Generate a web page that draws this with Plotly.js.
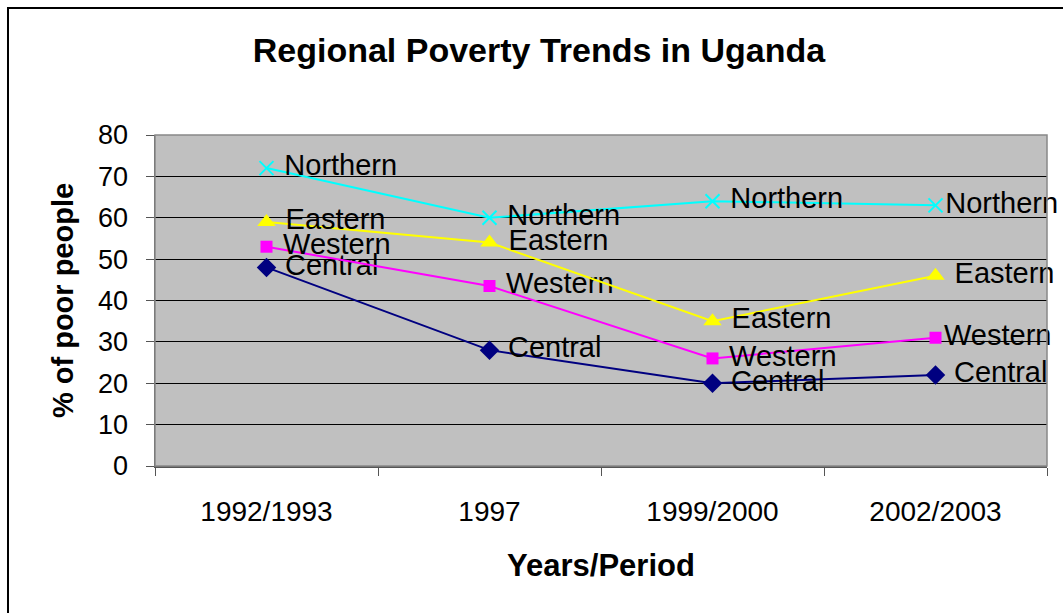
<!DOCTYPE html>
<html>
<head>
<meta charset="utf-8">
<script src="https://cdn.plot.ly/plotly-3.0.1.min.js"></script>
<style>
html,body{margin:0;padding:0;background:#fff;}
#chart{width:1063px;height:613px;}
</style>
</head>
<body>
<div id="chart"></div>
<script>
const periods = ["1992/1993", "1997", "1999/2000", "2002/2003"];
const northern = [72, 60, 64, 63];
const eastern = [59, 54, 35, 46];
const western = [53, 43.5, 26, 31];
const central = [48, 28, 20, 22];
const seriesNames = ["Northern", "Eastern", "Western", "Central"];
const yTicks = [0, 10, 20, 30, 40, 50, 60, 70, 80];

const FONT = "Liberation Sans, Arial, sans-serif";
const labelFont = {family: FONT, size: 29, color: "#000"};
const NBSP = "\u00A0";

function series(name, values, color, symbol, size, lineW, tightLast) {
  return {
    type: "scatter",
    mode: "lines+markers+text",
    name: name,
    x: periods,
    y: values,
    text: values.map((v, i) => (tightLast && i === values.length - 1 ? "" : NBSP) + name),
    textposition: "middle right",
    textfont: labelFont,
    cliponaxis: false,
    line: {color: color, width: 2},
    marker: {color: color, symbol: symbol, size: size, line: {color: color, width: lineW}}
  };
}

const data = [
  series(seriesNames[3], central, "#000080", "diamond", 15, 0, false),
  series(seriesNames[2], western, "#FF00FF", "square", 12, 0, true),
  series(seriesNames[1], eastern, "#FFFF00", "triangle-up", 16, 0, false),
  series(seriesNames[0], northern, "#00FFFF", "x-thin", 14, 2, true)
];

const layout = {
  width: 1063,
  height: 613,
  margin: {l: 155, r: 16, t: 135, b: 147},
  paper_bgcolor: "#FFFFFF",
  plot_bgcolor: "#C0C0C0",
  showlegend: false,
  title: {
    text: "<b>Regional Poverty Trends in Uganda</b>",
    font: {family: FONT, size: 34, color: "#000"},
    x: 0.507, xref: "container", xanchor: "center",
    y: 0.918, yref: "container", yanchor: "middle"
  },
  xaxis: {
    type: "category",
    categoryorder: "array",
    categoryarray: periods,
    range: [-0.5, 3.5],
    tickson: "boundaries",
    ticks: "outside",
    ticklen: 8,
    tickcolor: "#555",
    tickwidth: 1,
    showline: true,
    linecolor: "#555",
    linewidth: 1.5,
    showgrid: false,
    zeroline: false,
    ticklabelstandoff: 20,
    tickfont: {family: FONT, size: 28, color: "#000"},
    title: {
      text: "<b>Years/Period</b>",
      font: {family: FONT, size: 31, color: "#000"},
      standoff: 28
    },
    fixedrange: true
  },
  yaxis: {
    range: [0, 80],
    tickvals: yTicks,
    ticktext: yTicks.map(String),
    ticks: "outside",
    ticklen: 8,
    tickcolor: "#555",
    tickwidth: 1,
    showline: true,
    linecolor: "#555",
    linewidth: 1.5,
    showgrid: true,
    gridcolor: "#000000",
    gridwidth: 1,
    zeroline: false,
    ticklabelstandoff: 12,
    tickfont: {family: FONT, size: 27, color: "#000"},
    title: {
      text: "<b>% of poor people</b>",
      font: {family: FONT, size: 29, color: "#000"},
      standoff: 16
    },
    fixedrange: true
  },
  shapes: [
    {type: "rect", xref: "paper", yref: "paper", x0: 0, x1: 1, y0: 0, y1: 1,
     line: {color: "#888", width: 1.5}, fillcolor: "rgba(0,0,0,0)", layer: "above"},
    {type: "rect", xref: "paper", yref: "paper", x0: -0.1648, x1: 1.2, y0: -0.6, y1: 1.3837,
     line: {color: "#000", width: 2}, fillcolor: "rgba(0,0,0,0)", layer: "above"}
  ]
};

Plotly.newPlot("chart", data, layout, {displayModeBar: false, staticPlot: true});
</script>
</body>
</html>
